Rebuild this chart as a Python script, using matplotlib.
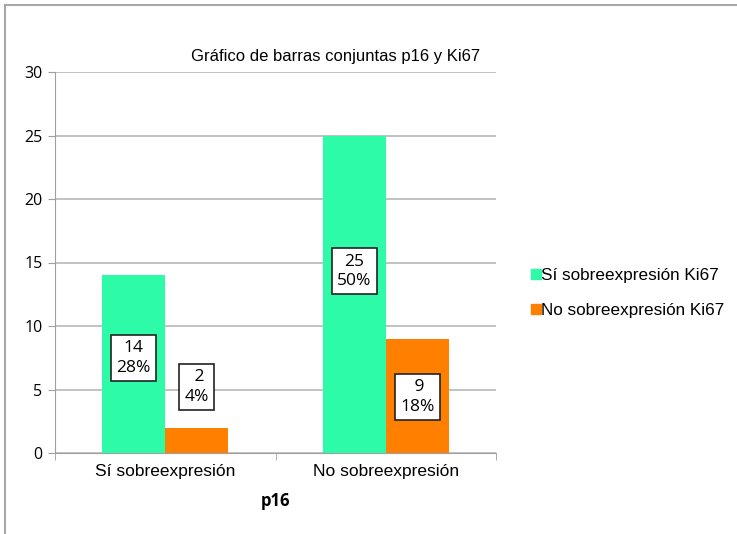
import matplotlib.pyplot as plt
from matplotlib.lines import Line2D
import numpy as np

categories = ["Sí sobreexpresión", "No sobreexpresión"]
series = ["Sí sobreexpresión Ki67", "No sobreexpresión Ki67"]
si_ki67 = [14, 25]
no_ki67 = [2, 9]
si_pct = ["28%", "50%"]
no_pct = ["4%", "18%"]
colors = ["#2EFBA8", "#FF7F00"]

plt.rcParams['font.family'] = ['Liberation Sans', 'DejaVu Sans']

fig = plt.figure(figsize=(7.37, 5.34), dpi=100)
ax = fig.add_axes([55/737, 1-453/534, 441/737, 381/534])

x = np.arange(len(categories))
w = 0.286
ax.bar(x - w/2, si_ki67, w, color=colors[0], label=series[0], zorder=2)
ax.bar(x + w/2, no_ki67, w, color=colors[1], label=series[1], zorder=2)

# label boxes
box = dict(boxstyle="square,pad=0.3", facecolor="white", edgecolor="#222222", linewidth=1.2)
lab_y_si = [7.5, 14.3]
lab_y_no = [5.2, 4.4]
for i in range(len(categories)):
    ax.text(x[i] - w/2, lab_y_si[i], f"{si_ki67[i]}\n{si_pct[i]}", ha="center", va="center",
            fontsize=12.5, family="Open Sans", bbox=box, zorder=3, linespacing=1.3)
    ax.text(x[i] + w/2, lab_y_no[i], f" {no_ki67[i]}\n{no_pct[i]}", ha="center", va="center",
            fontsize=12.5, family="Open Sans", bbox=box, zorder=3, linespacing=1.3)

ax.set_xlim(-0.5, 1.5)
ax.set_ylim(0, 30)
ax.set_yticks(range(0, 31, 5))
ax.yaxis.grid(True, color="#B8B8B8", linewidth=1.2, zorder=0)
ax.set_axisbelow(True)
for s in ["top", "right"]:
    ax.spines[s].set_visible(False)
ax.spines["left"].set_color("#A0A0A0")
ax.spines["bottom"].set_color("#A0A0A0")
ax.tick_params(axis="y", length=5, color="#A0A0A0", labelsize=11.5, pad=4)
for t in ax.get_yticklabels():
    t.set_family("Open Sans")
ax.set_xticks(x)
ax.set_xticklabels(categories, fontsize=12.5)
ax.tick_params(axis="x", length=0, pad=8)
ax.set_xticks([-0.5, 0.5, 1.5], minor=True)
ax.tick_params(axis="x", which="minor", length=5, color="#A0A0A0")
ax.set_xlabel("p16", fontsize=12, fontweight="bold", family="Open Sans", labelpad=9)

fig.text(336/737, 1-57/534, "Gráfico de barras conjuntas p16 y Ki67", ha="center", va="center", fontsize=12)

handles = [Line2D([], [], marker="s", linestyle="none", color=c, markersize=6.5) for c in colors]
fig.legend(handles, series, loc="center left", bbox_to_anchor=(521/737, 1-293/534), frameon=False,
           fontsize=12.3, handletextpad=-0.15, handlelength=0.8, labelspacing=1.15, borderpad=0)

fig.add_artist(Line2D([5/737, 1], [1-5/534, 1-5/534], color="#A8A8A8", linewidth=1.5))
fig.add_artist(Line2D([5/737, 5/737], [0, 1-5/534], color="#A8A8A8", linewidth=1.5))

fig.savefig("out.png", dpi=100)
